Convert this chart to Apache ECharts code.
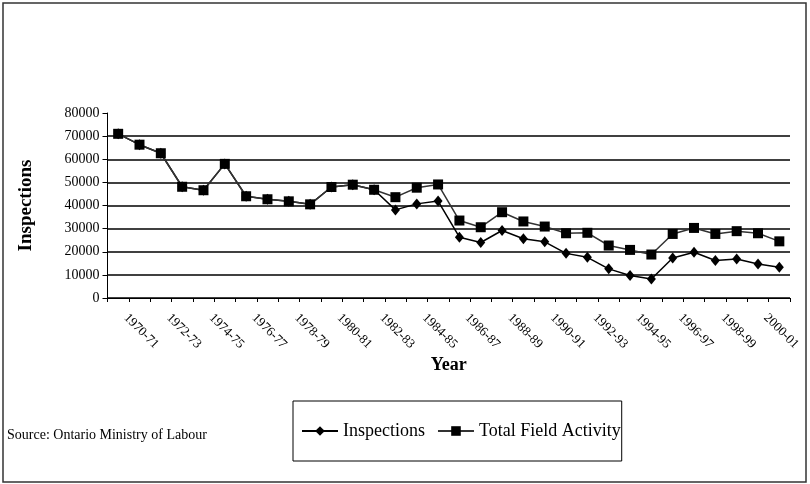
<!DOCTYPE html>
<html>
<head>
    <meta charset="utf-8">
    <title>Inspections</title>
    <script src="https://cdn.jsdelivr.net/npm/echarts@6/dist/echarts.min.js"></script>
    <style>
        html, body { margin: 0; padding: 0; background: #fff; }
    </style>
</head>
<body>
    <div id="chart" style="width: 810px;height:484px;"></div>
    <script type="text/javascript">
        // data
        var years = ['1970-71', '1971-72', '1972-73', '1973-74', '1974-75', '1975-76', '1976-77', '1977-78',
            '1978-79', '1979-80', '1980-81', '1981-82', '1982-83', '1983-84', '1984-85', '1985-86',
            '1986-87', '1987-88', '1988-89', '1989-90', '1990-91', '1991-92', '1992-93', '1993-94',
            '1994-95', '1995-96', '1996-97', '1997-98', '1998-99', '1999-00', '2000-01', '2001-02'];

        var inspections = [71000, 66300, 62600, 48100, 46600, 58000, 44000, 42700, 41800, 40500, 48000, 49000,
            46800, 38100, 40700, 41900, 26300, 24000, 29200, 25600, 24300, 19300, 17600, 12600,
            9700, 8200, 17300, 19800, 16200, 16900, 14700, 13300];

        var totalField = [71000, 66300, 62600, 48100, 46600, 58000, 44000, 42700, 41800, 40500, 48000, 49000,
            46800, 43600, 47700, 49100, 33500, 30600, 37100, 33100, 30900, 28000, 28200, 22700,
            20800, 18800, 27700, 30300, 27700, 28900, 28000, 24500];

        var serif = '"Liberation Serif", "DejaVu Serif", serif';

        var chart = echarts.init(document.getElementById('chart'));
        var option = {
            backgroundColor: '#fff',
            animation: false,
            textStyle: { fontFamily: serif, color: '#000' },
            grid: { left: 107.5, right: 20, top: 113, bottom: 186 },
            legend: {
                left: 293,
                top: 401,
                padding: [21, 1, 21, 8],
                borderColor: '#000',
                borderWidth: 1,
                itemWidth: 36,
                itemHeight: 12,
                itemGap: 12,
                textStyle: { fontFamily: serif, fontSize: 18, color: '#000' },
                data: ['Inspections', 'Total Field Activity']
            },
            xAxis: {
                type: 'category',
                data: years,
                boundaryGap: true,
                name: 'Year',
                nameLocation: 'middle',
                nameGap: 58,
                nameTextStyle: { fontFamily: serif, fontSize: 18, fontWeight: 'bold', color: '#000' },
                axisLine: { lineStyle: { color: '#000', width: 1 } },
                axisTick: { show: true, interval: 0, length: 4, lineStyle: { color: '#000' } },
                axisLabel: {
                    interval: 1,
                    rotate: -45,
                    margin: 10,
                    padding: [0, 0, 0, 11],
                    fontFamily: serif,
                    fontSize: 13,
                    color: '#000'
                },
                splitLine: { show: false }
            },
            yAxis: {
                type: 'value',
                min: 0,
                max: 80000,
                interval: 10000,
                name: 'Inspections',
                nameLocation: 'middle',
                nameGap: 72,
                nameTextStyle: { fontFamily: serif, fontSize: 19, fontWeight: 'bold', color: '#000' },
                axisLine: { show: true, lineStyle: { color: '#000', width: 1 } },
                axisTick: { show: true, length: 5, lineStyle: { color: '#000' } },
                axisLabel: {
                    fontFamily: serif, fontSize: 14, color: '#000', margin: 8,
                    formatter: function (v) { return String(v); }
                },
                splitLine: { show: true, showMaxLine: false, lineStyle: { color: '#000', width: 1.5 } }
            },
            graphic: [
                {
                    type: 'rect',
                    shape: { x: 3, y: 3, width: 803, height: 479 },
                    style: { fill: 'none', stroke: '#333', lineWidth: 1.5 },
                    silent: true
                },
                {
                    type: 'text',
                    left: 7,
                    top: 428,
                    style: { text: 'Source: Ontario Ministry of Labour', font: '14px ' + serif, fill: '#000' }
                }
            ],
            series: [
                {
                    name: 'Inspections',
                    type: 'line',
                    data: inspections,
                    symbol: 'diamond',
                    symbolSize: [9, 11],
                    lineStyle: { color: '#000', width: 1.5 },
                    itemStyle: { color: '#000' }
                },
                {
                    name: 'Total Field Activity',
                    type: 'line',
                    data: totalField,
                    symbol: 'rect',
                    symbolSize: 10,
                    lineStyle: { color: '#333', width: 1.5 },
                    itemStyle: { color: '#000' }
                }
            ]
        };
        chart.setOption(option);
    </script>
</body>
</html>
